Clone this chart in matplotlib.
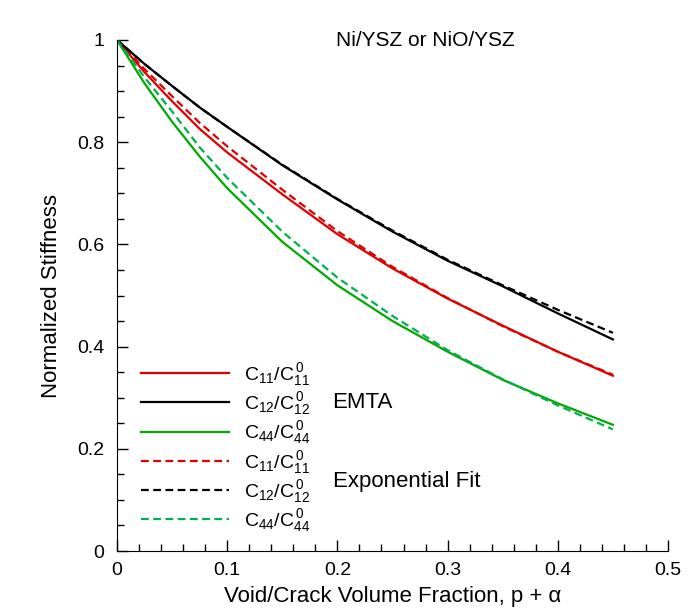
import matplotlib
matplotlib.use("Agg")
import matplotlib.pyplot as plt
from matplotlib.ticker import MultipleLocator, FuncFormatter

plt.rcParams['font.family'] = ['Liberation Sans', 'DejaVu Sans']
plt.rcParams['mathtext.fontset'] = 'custom'
plt.rcParams['mathtext.rm'] = 'Liberation Sans'
plt.rcParams['mathtext.it'] = 'Liberation Sans:italic'

# void/crack volume fraction
frac = [0.0, 0.025, 0.05, 0.075, 0.10, 0.15, 0.20, 0.25, 0.30, 0.35, 0.40, 0.45]

# EMTA
c11_emta = [1.0, 0.937, 0.880, 0.826, 0.780, 0.698, 0.620, 0.553, 0.494, 0.441, 0.390, 0.343]
c12_emta = [1.0, 0.953, 0.910, 0.868, 0.830, 0.755, 0.688, 0.625, 0.568, 0.518, 0.465, 0.414]
c44_emta = [1.0, 0.915, 0.840, 0.772, 0.710, 0.605, 0.520, 0.450, 0.390, 0.335, 0.289, 0.247]

# exponential fit
c11_fit = [1.0, 0.943, 0.890, 0.838, 0.792, 0.707, 0.626, 0.556, 0.495, 0.440, 0.390, 0.345]
c12_fit = [1.0, 0.953, 0.910, 0.868, 0.830, 0.756, 0.689, 0.627, 0.570, 0.520, 0.472, 0.427]
c44_fit = [1.0, 0.927, 0.860, 0.790, 0.730, 0.625, 0.535, 0.460, 0.393, 0.336, 0.285, 0.238]

red = '#e00000'
green = '#00aa00'
green2 = '#00b050'
dash = (0, (3.5, 2))

fig = plt.figure(figsize=(6.93, 6.11), dpi=100)
ax = fig.add_axes([117/693, 1 - 551/611, 551/693, 511/611])

lbl11 = r'$\mathregular{C_{11}/C_{11}^{\,0}}$'
lbl12 = r'$\mathregular{C_{12}/C_{12}^{\,0}}$'
lbl44 = r'$\mathregular{C_{44}/C_{44}^{\,0}}$'

h1, = ax.plot(frac, c11_emta, color=red, lw=1.6, label=lbl11)
h2, = ax.plot(frac, c12_emta, color='black', lw=1.6, label=lbl12)
h3, = ax.plot(frac, c44_emta, color=green, lw=1.6, label=lbl44)
h4, = ax.plot(frac, c11_fit, color=red, lw=1.6, ls=dash, label=lbl11)
h5, = ax.plot(frac, c12_fit, color='black', lw=1.6, ls=dash, label=lbl12)
h6, = ax.plot(frac, c44_fit, color=green2, lw=1.6, ls=dash, label=lbl44)

ax.set_xlim(0, 0.5)
ax.set_ylim(0, 1)
ax.spines['top'].set_visible(False)
ax.spines['right'].set_visible(False)
ax.xaxis.set_major_locator(MultipleLocator(0.1))
ax.xaxis.set_minor_locator(MultipleLocator(0.02))
ax.yaxis.set_major_locator(MultipleLocator(0.2))
ax.yaxis.set_minor_locator(MultipleLocator(0.05))
fmt = FuncFormatter(lambda v, p: f"{v:g}")
ax.xaxis.set_major_formatter(fmt)
ax.yaxis.set_major_formatter(fmt)
ax.tick_params(which='both', direction='in', labelsize=14, top=False, right=False)
ax.tick_params(which='major', length=8, width=1)
ax.tick_params(which='minor', length=5, width=1)
ax.tick_params(axis='x', pad=8)
ax.tick_params(axis='y', pad=9)

ax.set_xlabel('Void/Crack Volume Fraction, p + α', fontsize=16, labelpad=5)
ax.set_ylabel('Normalized Stiffness', fontsize=16, labelpad=11)

ax.text(0.56, 1.0, 'Ni/YSZ or NiO/YSZ', fontsize=15, ha='center', va='center',
        transform=ax.transAxes)

leg = ax.legend(handles=[h1, h2, h3, h4, h5, h6], loc='lower left',
                bbox_to_anchor=(0.012, -0.001), frameon=False, fontsize=14,
                handlelength=4.5, handletextpad=0.8, labelspacing=0.12)

ax.text(0.195, 0.29, 'EMTA', fontsize=16, va='center')
ax.text(0.196, 0.136, 'Exponential Fit', fontsize=16, va='center')

fig.savefig('out.png', dpi=100)
